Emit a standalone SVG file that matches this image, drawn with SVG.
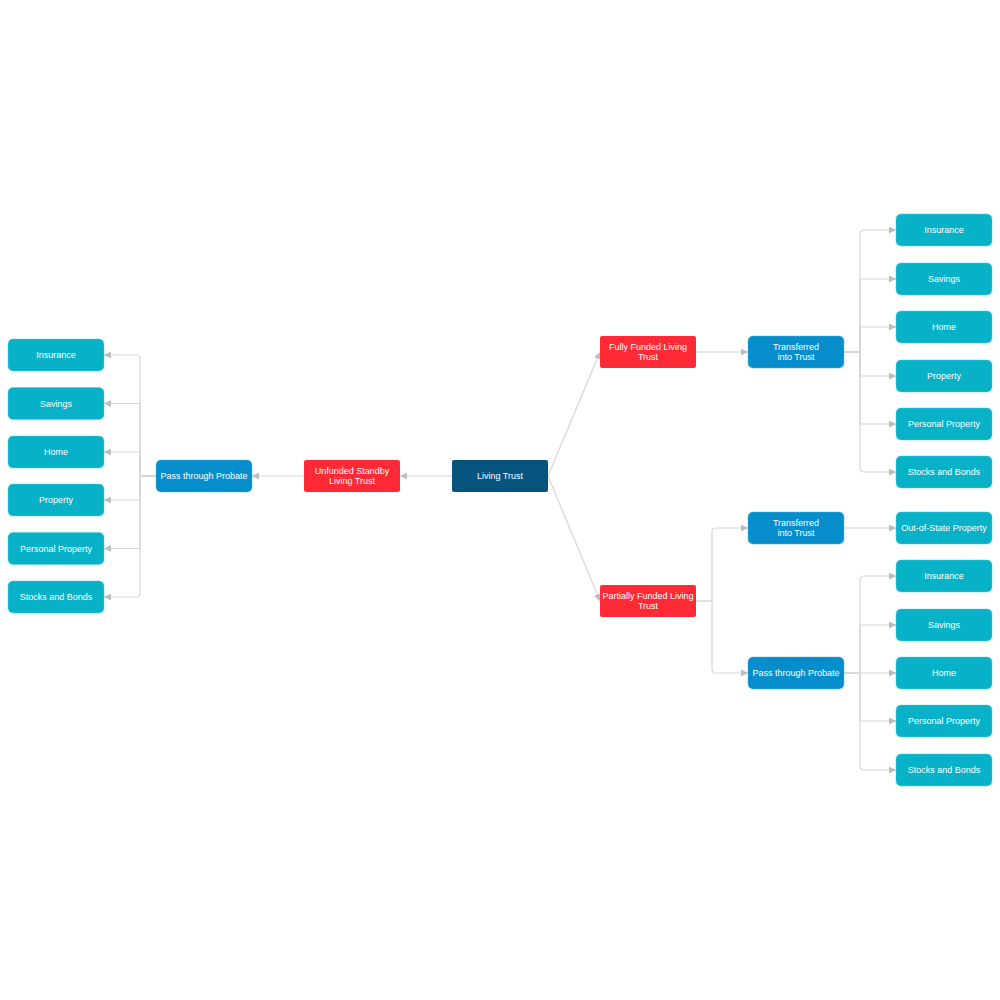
<svg xmlns="http://www.w3.org/2000/svg" width="1000" height="1000" viewBox="0 0 1000 1000">
<defs>
<marker id="arr" markerWidth="8" markerHeight="7" refX="7" refY="3.5" orient="auto" markerUnits="userSpaceOnUse">
<path d="M0,0 L7,3.5 L0,7 z" fill="#bdbdbd"/>
</marker>
<style>
.c{fill:none;stroke:#d6d6d6;stroke-width:1.2;marker-end:url(#arr)}
.leaf{fill:#07b1c7;stroke:#4fd0de;stroke-width:0.5}
.mid{fill:#068dcb;stroke:#4fb5e2;stroke-width:0.5}
.red{fill:#ff2a35}
.dark{fill:#05557f}
text{font-family:"Liberation Sans",Arial,sans-serif;font-size:9px;fill:#ffffff;text-anchor:middle}
</style>
</defs>
<rect width="1000" height="1000" fill="#ffffff"/>
<g id="connectors">
<path class="c" d="M548,476 L600,352"/>
<path class="c" d="M548,476 L600,601"/>
<path class="c" d="M452,476 H400"/>
<path class="c" d="M304,476 H252"/>
<path class="c" d="M156,476 H140 V359 Q140,355 136,355 H104"/>
<path class="c" d="M156,476 H140 V403.5 H104"/>
<path class="c" d="M156,476 H140 V452 H104"/>
<path class="c" d="M156,476 H140 V500 H104"/>
<path class="c" d="M156,476 H140 V548.5 H104"/>
<path class="c" d="M156,476 H140 V593 Q140,597 136,597 H104"/>
<path class="c" d="M696,352 H748"/>
<path class="c" d="M844,352 H860 V234 Q860,230 864,230 H896"/>
<path class="c" d="M844,352 H860 V279 H896"/>
<path class="c" d="M844,352 H860 V327 H896"/>
<path class="c" d="M844,352 H860 V376 H896"/>
<path class="c" d="M844,352 H860 V424 H896"/>
<path class="c" d="M844,352 H860 V468 Q860,472 864,472 H896"/>
<path class="c" d="M696,601 H712 V532 Q712,528 716,528 H748"/>
<path class="c" d="M696,601 H712 V669 Q712,673 716,673 H748"/>
<path class="c" d="M844,528 H896"/>
<path class="c" d="M844,673 H860 V580 Q860,576 864,576 H896"/>
<path class="c" d="M844,673 H860 V625 H896"/>
<path class="c" d="M844,673 H896"/>
<path class="c" d="M844,673 H860 V721 H896"/>
<path class="c" d="M844,673 H860 V766 Q860,770 864,770 H896"/>
</g>
<g id="living-trust"><rect class="dark" x="452" y="460" width="96" height="32" rx="2"/><text x="500" y="479">Living Trust</text></g>
<g id="unfunded"><rect class="red" x="304" y="460" width="96" height="32" rx="2"/><text x="352" y="474">Unfunded Standby</text><text x="352" y="484">Living Trust</text></g>
<g id="probate-left"><rect class="mid" x="156" y="460" width="96" height="32" rx="5"/><text x="204" y="479">Pass through Probate</text></g>
<g id="l-insurance"><rect class="leaf" x="8" y="339" width="96" height="32" rx="5"/><text x="56" y="358">Insurance</text></g>
<g id="l-savings"><rect class="leaf" x="8" y="387.5" width="96" height="32" rx="5"/><text x="56" y="406.5">Savings</text></g>
<g id="l-home"><rect class="leaf" x="8" y="436" width="96" height="32" rx="5"/><text x="56" y="455">Home</text></g>
<g id="l-property"><rect class="leaf" x="8" y="484" width="96" height="32" rx="5"/><text x="56" y="503">Property</text></g>
<g id="l-personal"><rect class="leaf" x="8" y="532.5" width="96" height="32" rx="5"/><text x="56" y="551.5">Personal Property</text></g>
<g id="l-stocks"><rect class="leaf" x="8" y="581" width="96" height="32" rx="5"/><text x="56" y="600">Stocks and Bonds</text></g>
<g id="fully"><rect class="red" x="600" y="336" width="96" height="32" rx="2"/><text x="648" y="350">Fully Funded Living</text><text x="648" y="360">Trust</text></g>
<g id="transferred-1"><rect class="mid" x="748" y="336" width="96" height="32" rx="5"/><text x="796" y="350">Transferred</text><text x="796" y="360">into Trust</text></g>
<g id="r-insurance"><rect class="leaf" x="896" y="214" width="96" height="32" rx="5"/><text x="944" y="233">Insurance</text></g>
<g id="r-savings"><rect class="leaf" x="896" y="263" width="96" height="32" rx="5"/><text x="944" y="282">Savings</text></g>
<g id="r-home"><rect class="leaf" x="896" y="311" width="96" height="32" rx="5"/><text x="944" y="330">Home</text></g>
<g id="r-property"><rect class="leaf" x="896" y="360" width="96" height="32" rx="5"/><text x="944" y="379">Property</text></g>
<g id="r-personal"><rect class="leaf" x="896" y="408" width="96" height="32" rx="5"/><text x="944" y="427">Personal Property</text></g>
<g id="r-stocks"><rect class="leaf" x="896" y="456" width="96" height="32" rx="5"/><text x="944" y="475">Stocks and Bonds</text></g>
<g id="partially"><rect class="red" x="600" y="585" width="96" height="32" rx="2"/><text x="648" y="599">Partially Funded Living</text><text x="648" y="609">Trust</text></g>
<g id="transferred-2"><rect class="mid" x="748" y="512" width="96" height="32" rx="5"/><text x="796" y="526">Transferred</text><text x="796" y="536">into Trust</text></g>
<g id="probate-right"><rect class="mid" x="748" y="657" width="96" height="32" rx="5"/><text x="796" y="676">Pass through Probate</text></g>
<g id="out-of-state"><rect class="leaf" x="896" y="512" width="96" height="32" rx="5"/><text x="944" y="531">Out-of-State Property</text></g>
<g id="p-insurance"><rect class="leaf" x="896" y="560" width="96" height="32" rx="5"/><text x="944" y="579">Insurance</text></g>
<g id="p-savings"><rect class="leaf" x="896" y="609" width="96" height="32" rx="5"/><text x="944" y="628">Savings</text></g>
<g id="p-home"><rect class="leaf" x="896" y="657" width="96" height="32" rx="5"/><text x="944" y="676">Home</text></g>
<g id="p-personal"><rect class="leaf" x="896" y="705" width="96" height="32" rx="5"/><text x="944" y="724">Personal Property</text></g>
<g id="p-stocks"><rect class="leaf" x="896" y="754" width="96" height="32" rx="5"/><text x="944" y="773">Stocks and Bonds</text></g>
</svg>
